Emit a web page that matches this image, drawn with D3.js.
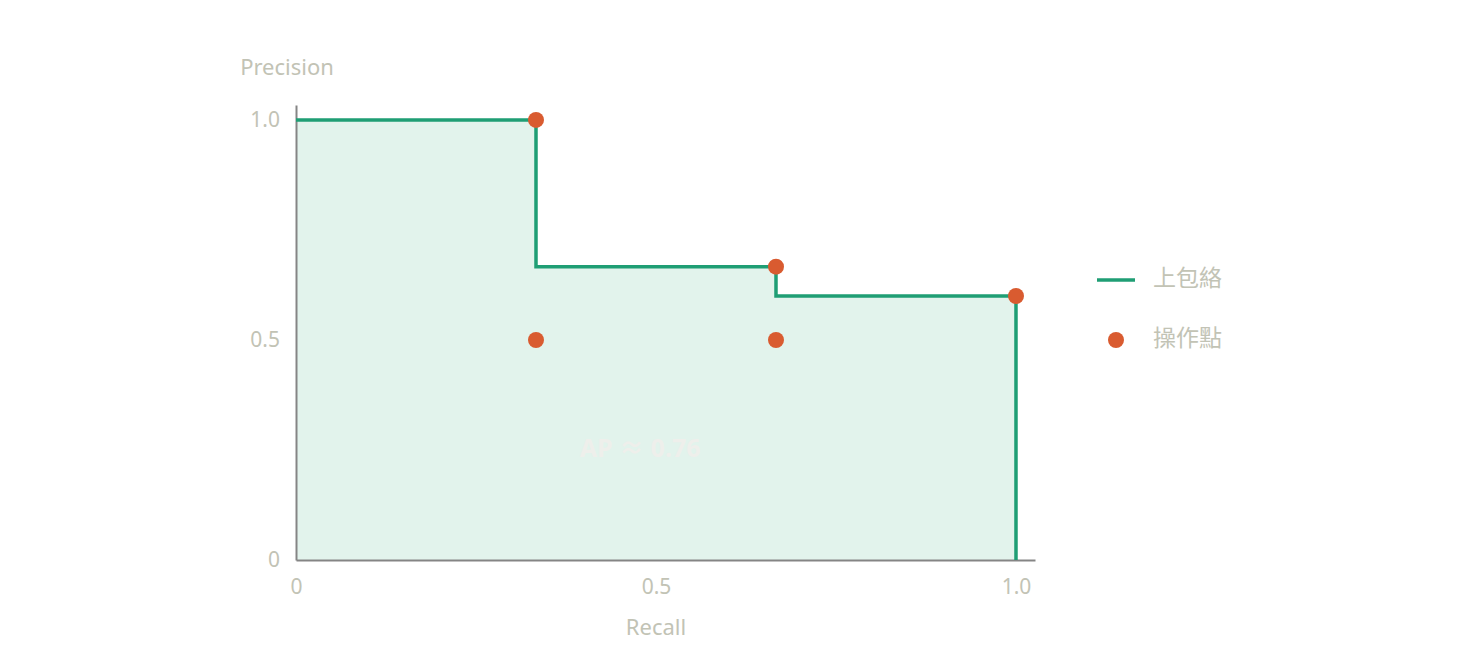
<!DOCTYPE html>
<html>
<head>
<meta charset="utf-8">
<script src="https://cdn.jsdelivr.net/npm/d3@7"></script>
<style>
  body { margin: 0; background: #fff; }
  svg text { font-family: "Noto Sans", "Noto Sans CJK TC", sans-serif; }
</style>
</head>
<body>
<div id="chart"></div>
<script>
(function () {

const [WIDTH, HEIGHT] = [1472, 660];

// upper envelope (step line)
const envelopeRecall = [0, 1 / 3, 1 / 3, 2 / 3, 2 / 3, 1, 1];
const envelopePrecision = [1, 1, 2 / 3, 2 / 3, 0.6, 0.6, 0];

// operating points
const pointRecall = [1 / 3, 2 / 3, 1, 1 / 3, 2 / 3];
const pointPrecision = [1, 2 / 3, 0.6, 0.5, 0.5];

const xTicks = [0, 0.5, 1];
const xTickLabels = ['0', '0.5', '1.0'];
const yTicks = [0, 0.5, 1];
const yTickLabels = ['0', '0.5', '1.0'];

const legendLabels = ['上包絡', '操作點'];
const apLabel = 'AP ≈ 0.76';

const COLORS = {
    line: '#1f9e74',
    fill: '#e2f3ec',
    dot: '#d95b30',
    axis: '#858585',
    text: '#c2c3b5',
    ap: '#eeefeb',
}

const x = d3.scaleLinear().domain([0, 1.0264]).range([296, 1035]);
const y = d3.scaleLinear().domain([0, 1.034]).range([560, 105]);

const svg = d3.select('#chart').append('svg')
    .attr('width', WIDTH)
    .attr('height', HEIGHT)
    .attr('viewBox', `0 0 ${WIDTH} ${HEIGHT}`);

const envelope = envelopeRecall.map((r, i) => ({ r: r, p: envelopePrecision[i] }));

// filled area under envelope
svg.append('path')
    .datum(envelope)
    .attr('fill', COLORS.fill)
    .attr('d', d3.area()
        .x((d) => x(d.r))
        .y0(y(0))
        .y1((d) => y(d.p)));

svg.append('text')
    .attr('x', x(0.478))
    .attr('y', y(0.25))
    .attr('text-anchor', 'middle')
    .attr('dominant-baseline', 'middle')
    .attr('font-size', 25)
    .attr('font-weight', 'bold')
    .attr('fill', COLORS.ap)
    .text(apLabel);

// axes, no ticks
const xAxis = svg.append('g')
    .attr('transform', `translate(0, ${y(0)})`)
    .call(d3.axisBottom(x).tickValues(xTicks)
        .tickFormat((d, i) => xTickLabels[i]).tickSize(0).tickPadding(19));
const yAxis = svg.append('g')
    .attr('transform', `translate(${x(0)}, 0)`)
    .call(d3.axisLeft(y).tickValues(yTicks)
        .tickFormat((d, i) => yTickLabels[i]).tickSize(0).tickPadding(16));

[xAxis, yAxis].forEach((ax) => {
    ax.select('.domain').attr('stroke', COLORS.axis).attr('stroke-width', 2);
    ax.selectAll('text')
        .attr('fill', COLORS.text)
        .attr('font-size', 21)
        .style('font-family', '"Noto Sans", sans-serif');
});

svg.append('text')
    .attr('x', 287)
    .attr('y', 69)
    .attr('text-anchor', 'middle')
    .attr('dominant-baseline', 'middle')
    .attr('font-size', 22)
    .attr('fill', COLORS.text)
    .text('Precision');

svg.append('text')
    .attr('x', x(0.5))
    .attr('y', 629)
    .attr('text-anchor', 'middle')
    .attr('dominant-baseline', 'middle')
    .attr('font-size', 22)
    .attr('fill', COLORS.text)
    .text('Recall');

// step line
svg.append('path')
    .datum(envelope)
    .attr('fill', 'none')
    .attr('stroke', COLORS.line)
    .attr('stroke-width', 3.5)
    .attr('d', d3.line()
        .x((d) => x(d.r))
        .y((d) => y(d.p)));

// operating points
svg.selectAll('.dot')
    .data(pointRecall.map((r, i) => ({ r: r, p: pointPrecision[i] })))
    .enter()
    .append('circle')
    .attr('class', 'dot')
    .attr('cx', (d) => x(d.r))
    .attr('cy', (d) => y(d.p))
    .attr('r', 8)
    .attr('fill', COLORS.dot);

// legend
const legend = svg.append('g').attr('transform', 'translate(1097, 280)');
legend.append('line')
    .attr('x1', 0).attr('x2', 38)
    .attr('stroke', COLORS.line)
    .attr('stroke-width', 3.5);
legend.append('circle')
    .attr('cx', 19).attr('cy', 60).attr('r', 8)
    .attr('fill', COLORS.dot);
legend.selectAll('.legend-label')
    .data(legendLabels)
    .enter()
    .append('text')
    .attr('class', 'legend-label')
    .attr('x', 56)
    .attr('y', (d, i) => i * 60)
    .attr('dominant-baseline', 'middle')
    .attr('font-size', 23)
    .attr('fill', COLORS.text)
    .style('font-family', '"Noto Sans CJK TC", sans-serif')
    .text((d) => d);

})();
</script>
</body>
</html>
